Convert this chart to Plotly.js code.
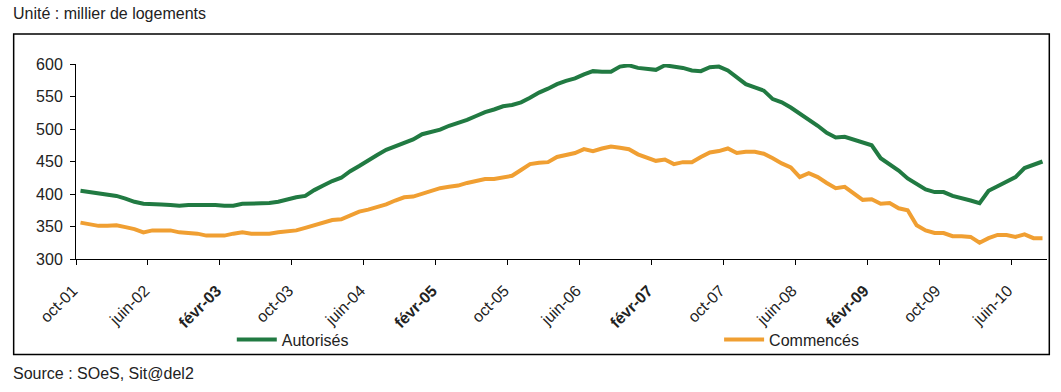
<!DOCTYPE html>
<html>
<head>
<meta charset="utf-8">
<script src="https://cdn.plot.ly/plotly-3.0.1.min.js"></script>
<style>
html,body{margin:0;padding:0;background:#fff;}
#chart{width:1061px;height:392px;}
</style>
</head>
<body>
<div id="chart"></div>
<script>
// Month categories: oct-01 .. sept-10 (108 monthly points)
const monthNames = ['janv','févr','mars','avr','mai','juin','juil','août','sept','oct','nov','déc'];
const months = [];
for (let k = 0; k < 108; k++) {
  const m = (9 + k) % 12;
  const yr = 1 + Math.floor((9 + k) / 12);
  months.push(monthNames[m] + '-' + String(yr).padStart(2, '0'));
}

// Logements autorisés (milliers, cumul 12 mois)
const autorises = [
  405, 403, 401, 399, 397, 393, 388, 385, 385, 384,
  383, 382, 383, 383, 384, 383, 382, 382, 385, 385,
  386, 386, 388, 392, 395, 397, 406, 413, 420, 425,
  435, 443, 452, 460, 468, 473, 478, 484, 492, 496,
  499, 505, 509, 514, 520, 526, 530, 535, 537, 541,
  548, 556, 562, 569, 574, 578, 584, 589, 588, 588,
  596, 598, 594, 593, 591, 598, 596, 594, 590, 589,
  595, 596, 590, 580, 569, 564, 559, 546, 541, 533,
  524, 515, 505, 494, 487, 488, 484, 479, 475, 455,
  446, 436, 424, 416, 407, 403, 403, 397, 394, 390,
  386, 405, 412, 419, 426, 440, 445, 450
];

// Logements commencés (milliers, cumul 12 mois)
const commences = [
  356, 354, 351, 351, 352, 349, 346, 341, 344, 344,
  344, 341, 340, 339, 336, 336, 336, 339, 341, 339,
  339, 339, 341, 343, 344, 348, 352, 357, 360, 361,
  367, 373, 376, 380, 384, 390, 395, 396, 400, 405,
  409, 411, 413, 417, 420, 423, 423, 425, 428, 437,
  446, 448, 449, 457, 460, 463, 469, 466, 470, 473,
  471, 469, 461, 456, 451, 453, 446, 449, 449, 457,
  464, 466, 470, 463, 465, 465, 462, 455, 447, 441,
  426, 432, 426, 417, 409, 411, 401, 391, 392, 385,
  386, 378, 375, 352, 344, 340, 340, 335, 335, 334,
  325, 332, 337, 337, 334, 338, 332, 332
];

const tickLabels = ['oct-01','juin-02','févr-03','oct-03','juin-04','févr-05','oct-05',
                    'juin-06','févr-07','oct-07','juin-08','févr-09','oct-09','juin-10'];
const seriesNames = ['Autorisés', 'Commencés'];

const xIdx = months.map((_, i) => i);
const tickVals = tickLabels.map(l => months.indexOf(l) - 0.5);
const tickText = tickLabels.map(l => (l.startsWith('févr') ? '<b>' + l + '</b>' : l) + '\u00a0');

// pixel geometry helpers
const W = 1061, H = 392;
const L = 76.3, R = 14.3, T = 64, B = 132.7;
const PW = W - L - R, PH = H - T - B;
const px = x => (x - L) / PW;
const py = y => (T + PH - y) / PH;

const txt = '#222';
const fam = '"Liberation Sans", Arial, sans-serif';

const traces = [
  {x: xIdx, y: autorises, text: months, name: seriesNames[0], type: 'scatter', mode: 'lines',
   line: {color: '#217a42', width: 4}, legend: 'legend', hovertemplate: '%{text}: %{y}<extra></extra>'},
  {x: xIdx, y: commences, text: months, name: seriesNames[1], type: 'scatter', mode: 'lines',
   line: {color: '#f09f32', width: 4}, legend: 'legend2', hovertemplate: '%{text}: %{y}<extra></extra>'}
];

const legendBase = {
  orientation: 'h', xanchor: 'left', yanchor: 'middle', itemwidth: 40,
  font: {family: fam, size: 16, color: txt}, bgcolor: 'rgba(0,0,0,0)'
};

const layout = {
  width: W, height: H,
  margin: {l: L, r: R, t: T, b: B, pad: 0},
  paper_bgcolor: '#fff', plot_bgcolor: '#fff',
  font: {family: fam, color: txt, size: 15},
  showlegend: true,
  legend: Object.assign({}, legendBase, {x: px(232), y: py(340)}),
  legend2: Object.assign({}, legendBase, {x: px(719), y: py(340)}),
  xaxis: {
    range: [-0.5, 107.5], tickmode: 'array', tickvals: tickVals, ticktext: tickText,
    tickangle: -45, ticks: 'outside', ticklen: 5, tickcolor: '#000', tickwidth: 1,
    showline: true, linecolor: '#000', linewidth: 1, showgrid: false, zeroline: false,
    tickfont: {family: fam, size: 16, color: txt}, ticklabelstandoff: 7, fixedrange: true
  },
  yaxis: {
    range: [300, 600], tickmode: 'linear', tick0: 300, dtick: 50,
    ticks: 'outside', ticklen: 5, tickcolor: '#000', tickwidth: 1,
    showline: true, linecolor: '#000', linewidth: 1, showgrid: false, zeroline: false,
    tickfont: {family: fam, size: 16, color: txt}, ticklabelstandoff: 4, fixedrange: true
  },
  shapes: [
    {type: 'rect', xref: 'paper', yref: 'paper', x0: px(14), x1: px(1049), y0: py(355), y1: py(34),
     line: {color: '#000', width: 1.5}, fillcolor: 'rgba(0,0,0,0)', layer: 'above'}
  ],
  annotations: [
    {text: 'Unité : millier de logements', xref: 'paper', yref: 'paper', x: px(11), y: py(13),
     xanchor: 'left', yanchor: 'middle', showarrow: false, font: {family: fam, size: 16, color: txt}},
    {text: 'Source : SOeS, Sit@del2', xref: 'paper', yref: 'paper', x: px(11), y: py(374),
     xanchor: 'left', yanchor: 'middle', showarrow: false, font: {family: fam, size: 16, color: txt}}
  ]
};

Plotly.newPlot('chart', traces, layout, {displayModeBar: false, staticPlot: true});
</script>
</body>
</html>
